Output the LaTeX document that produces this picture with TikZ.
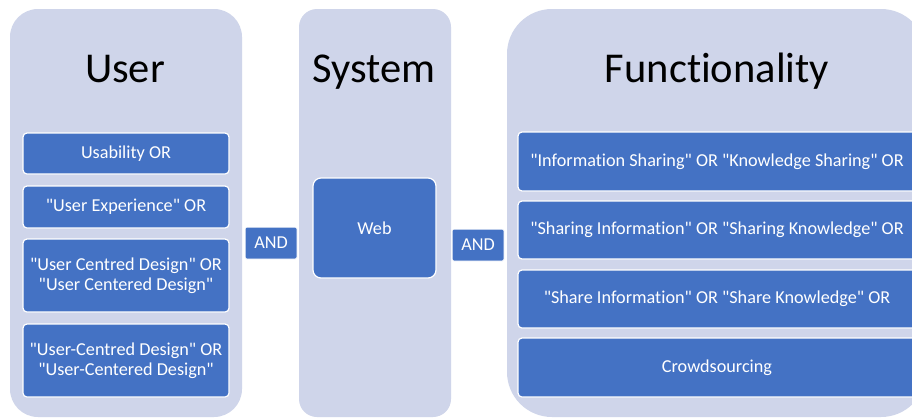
\documentclass[tikz,border=0pt]{standalone}
\usepackage{fontspec}
\setmainfont{Carlito}[Ligatures={NoCommon}]
\definecolor{panelbg}{HTML}{CFD5EA}
\definecolor{boxblue}{HTML}{4472C4}
\newcommand{\qq}{\textquotedbl}
\begin{document}
\begin{tikzpicture}[x=1pt,y=-1pt,
  panel/.style={fill=panelbg, draw=none, inner sep=0pt},
  title/.style={font=\fontsize{42.5}{48}\selectfont, text=black, anchor=base, inner sep=0pt},
  itembox/.style={fill=boxblue, draw=white, line width=1.2pt, rounded corners=4pt,
    text=white, align=center, inner sep=0pt,
    font=\fontsize{18.2}{20.5}\selectfont},
  andbox/.style={fill=boxblue, draw=white, line width=1pt, rounded corners=1.5pt,
    text=white, inner sep=0pt, font=\fontsize{18.2}{20.5}\selectfont,
    minimum width=52pt, minimum height=32pt}
]
\useasboundingbox (0,0) rectangle (912,418);
\clip (0,0) rectangle (912,418);
\fill[white] (0,0) rectangle (912,418);

% panels
\node[panel, rounded corners=28pt, minimum width=232pt, minimum height=408pt] (puser) at (126,213) {};
\node[panel, rounded corners=18pt, minimum width=152pt, minimum height=408pt] (psys) at (375,213) {};
\node[panel, rounded corners=45pt, minimum width=419pt, minimum height=408pt] (pfun) at (716.5,213) {};

% titles
\node[title] (tuser) at (125,82) {User};
\node[title] (tsys) at (374,82) {System};
\node[title] (tfun) at (717,82) {Functionality};

% user items
\node[itembox, minimum width=206pt, minimum height=41pt] (u1) at (126,153.5) {Usability OR};
\node[itembox, minimum width=206pt, minimum height=42pt] (u2) at (126,207) {\qq User Experience\qq{} OR};
\node[itembox, minimum width=206pt, minimum height=73pt] (u3) at (126,275.5) {\qq User Centred Design\qq{} OR\\\qq User Centered Design\qq};
\node[itembox, minimum width=206pt, minimum height=73pt] (u4) at (126,360.5) {\qq User-Centred Design\qq{} OR\\\qq User-Centered Design\qq};

% system item
\node[itembox, rounded corners=8pt, minimum width=123pt, minimum height=100pt] (web) at (374.5,228) {Web};

% functionality items
\node[itembox, minimum width=398pt, minimum height=59pt] (f1) at (717,161.5) {\qq Information Sharing\qq{} OR \qq Knowledge Sharing\qq{} OR};
\node[itembox, minimum width=398pt, minimum height=58pt] (f2) at (717,230) {\qq Sharing Information\qq{} OR \qq Sharing Knowledge\qq{} OR};
\node[itembox, minimum width=398pt, minimum height=58pt] (f3) at (717,299) {\qq Share Information\qq{} OR \qq Share Knowledge\qq{} OR};
\node[itembox, minimum width=398pt, minimum height=59pt] (f4) at (717,367.5) {Crowdsourcing};

% AND operators
\node[andbox] (and1) at (271,243) {AND};
\node[andbox] (and2) at (478,245) {AND};
\end{tikzpicture}
\end{document}
